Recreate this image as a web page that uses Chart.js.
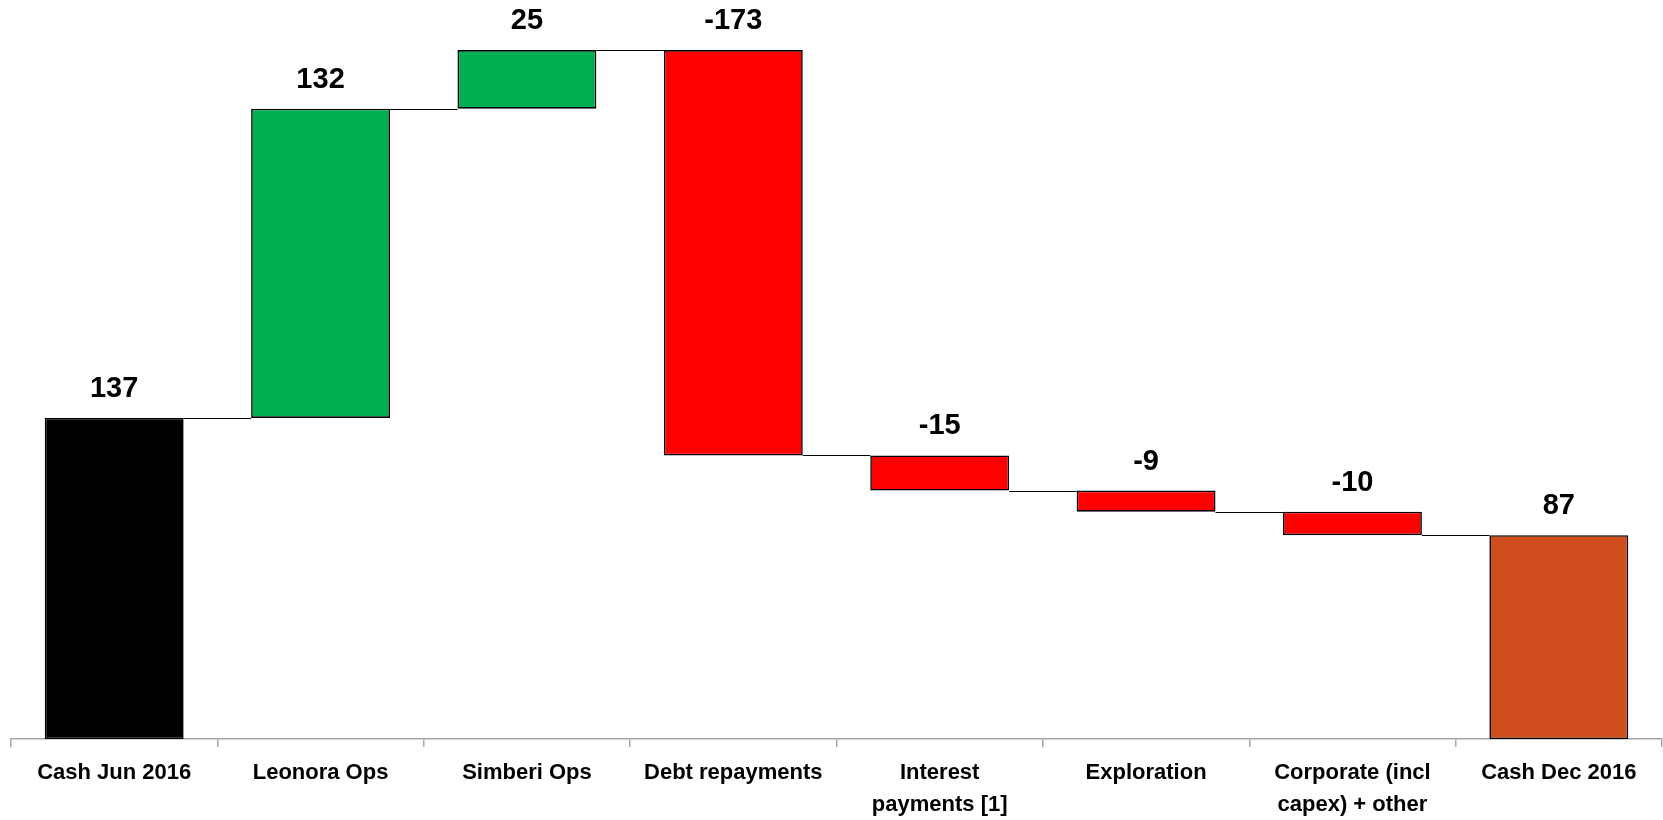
<!DOCTYPE html>
<html>
<head>
<meta charset="utf-8">
<script src="https://cdn.jsdelivr.net/npm/chart.js@4/dist/chart.umd.min.js"></script>
<style>
  html, body { margin: 0; padding: 0; background: #fff; }
  #wrap { width: 1663px; height: 820px; }
</style>
</head>
<body>
<div id="wrap"><canvas id="cashChart"></canvas></div>
<script>
// Cash movement, Jun 2016 -> Dec 2016
const categories = [
  "Cash Jun 2016",
  "Leonora Ops",
  "Simberi Ops",
  "Debt repayments",
  ["Interest", "payments [1]"],
  "Exploration",
  ["Corporate (incl", "capex) + other"],
  "Cash Dec 2016"
];
const changes = [137, 132, 25, -173, -15, -9, -10, 87];
const isTotal = [true, false, false, false, false, false, false, true];
const barColors = ["#000000", "#00B050", "#00B050", "#FF0000", "#FF0000", "#FF0000", "#FF0000", "#D04E1E"];

// floating ranges for the waterfall
let running = 0;
const ranges = changes.map((v, i) => {
  if (isTotal[i]) {
    running = v;
    return [0, v];
  }
  const start = running;
  running += v;
  return [Math.min(start, running), Math.max(start, running)];
});
// level each bar hands over to the next one
const levels = changes.map((v, i) => ranges[i][isTotal[i] || v >= 0 ? 1 : 0]);

const FONT = "'Liberation Sans', Arial, sans-serif";

const waterfallExtras = {
  id: "waterfallExtras",
  afterDatasetsDraw(chart) {
    const ctx = chart.ctx;
    const meta = chart.getDatasetMeta(0);
    const y = chart.scales.y;
    ctx.save();
    // connectors between neighbouring bars
    ctx.strokeStyle = "#000";
    ctx.lineWidth = 1.2;
    for (let i = 0; i < meta.data.length - 1; i++) {
      const a = meta.data[i], b = meta.data[i + 1];
      const py = Math.round(y.getPixelForValue(levels[i])) + 0.5;
      ctx.beginPath();
      ctx.moveTo(a.x + a.width / 2, py);
      ctx.lineTo(b.x - b.width / 2, py);
      ctx.stroke();
    }
    // value labels above each bar
    ctx.fillStyle = "#000";
    ctx.font = "bold 29px " + FONT;
    ctx.textAlign = "center";
    ctx.textBaseline = "middle";
    meta.data.forEach((bar, i) => {
      const top = y.getPixelForValue(ranges[i][1]);
      ctx.fillText(String(changes[i]), bar.x, top - 29);
    });
    ctx.restore();
  }
};

new Chart(document.getElementById("cashChart"), {
  type: "bar",
  data: {
    labels: categories,
    datasets: [{
      data: ranges,
      backgroundColor: barColors,
      borderColor: "#000",
      borderWidth: 1.6,
      borderSkipped: false,
      categoryPercentage: 1,
      barPercentage: 0.673
    }]
  },
  options: {
    responsive: true,
    maintainAspectRatio: false,
    animation: false,
    layout: { padding: { left: 11, right: 1, top: 36, bottom: 0 } },
    plugins: { legend: { display: false }, tooltip: { enabled: false } },
    scales: {
      x: {
        afterFit(scale) { scale.height = 81; },
        grid: {
          display: true,
          offset: true,
          drawOnChartArea: false,
          drawTicks: true,
          tickLength: 8,
          color: "#A6A6A6",
          lineWidth: 1.5
        },
        border: { display: true, color: "#A6A6A6", width: 1.5 },
        ticks: {
          color: "#000",
          padding: 10,
          maxRotation: 0,
          autoSkip: false,
          font: { family: FONT, size: 22, weight: "bold", lineHeight: 1.45 }
        }
      },
      y: {
        display: false,
        min: 0,
        max: 300
      }
    }
  },
  plugins: [waterfallExtras]
});
</script>
</body>
</html>
